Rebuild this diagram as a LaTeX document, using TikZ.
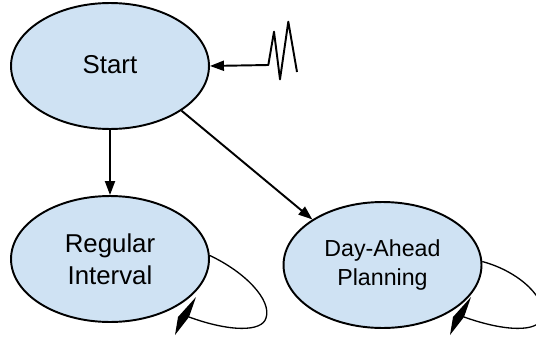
\documentclass[tikz,border=0pt]{standalone}
\usepackage{fontspec}
\setmainfont{Liberation Sans}
\usetikzlibrary{shapes.geometric,arrows.meta}

\definecolor{stateblue}{HTML}{CFE2F3}

\begin{document}
\begin{tikzpicture}[
        x = 0.02cm, y = -0.02cm,
        line join=round,
        state/.style = {ellipse, draw, line width=1.1pt, fill=stateblue,
            minimum width=3.96cm, minimum height=2.52cm, inner sep=0pt, align=center},
        bigtext/.style = {font=\fontsize{14.7}{18}\selectfont},
        smalltext/.style = {font=\fontsize{13.2}{16.1}\selectfont},
        trans/.style = {line width=1.1pt, -{Triangle[length=0.28cm, width=0.2cm]}},
        loop/.style = {line width=0.75pt}
    ]

    \clip (0,0) rectangle (536,341);

    \node[state, bigtext] (start) at (110,66) {\raisebox{0.08cm}{Start}};
    \node[state, bigtext] (regular) at (110,259) {Regular\\Interval};
    \node[state, smalltext] (dayahead) at (382.5,265) {Day-Ahead\\Planning};

    \coordinate (entry) at (297,72);
    \coordinate (regback) at (189,317);
    \coordinate (dayback) at (464,317);

    % incoming signal
    \draw[trans] (entry) -- (288.3,21.7) -- (280,79.3) -- (274,31.7) -- (268.3,65) -- (start.east);

    \draw[trans] (start.south) -- (regular.north);
    \draw[trans] (start.-32.5) -- (dayahead.147.5);

    % self loops
    \draw[loop] (regular.2) .. controls (245,272) and (272,300) .. (266,318)
        .. controls (262,332) and (230,332) .. (regback);
    \fill (regback) --++ (7,-20) --++ (-18,20) --++ (-3,18) -- cycle;

    \draw[loop] (dayahead.2) .. controls (521,272) and (548,300) .. (542,318)
        .. controls (538,332) and (506,332) .. (dayback);
    \fill (dayback) --++ (7,-20) --++ (-18,20) --++ (-3,18) -- cycle;

\end{tikzpicture}
\end{document}
